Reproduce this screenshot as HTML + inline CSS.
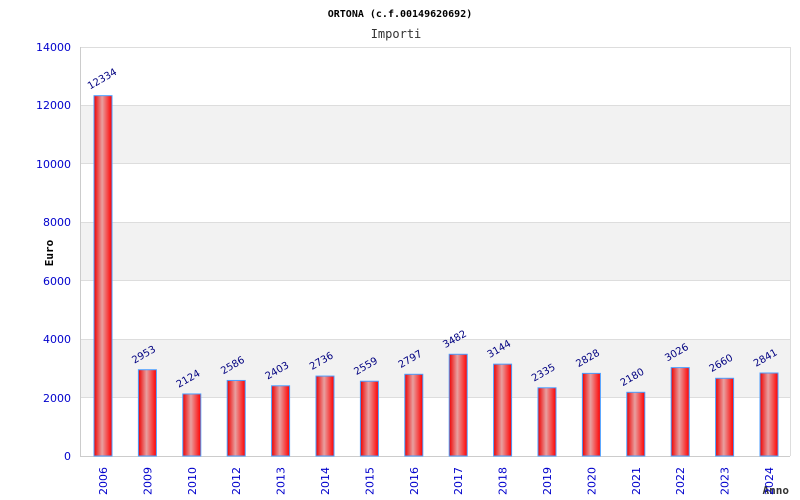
<!DOCTYPE html>
<html><head><meta charset="utf-8"><style>body{margin:0;background:#fff}svg{display:block}</style></head>
<body>
<svg width="800" height="500" xmlns="http://www.w3.org/2000/svg" font-family="'DejaVu Sans Mono','Liberation Mono',monospace">
<defs><linearGradient id="g" x1="0" x2="1"><stop offset="0" stop-color="#e00"/><stop offset="0.45" stop-color="#e8a0a0"/><stop offset="1" stop-color="#f00"/></linearGradient></defs>
<text x="400" y="17" text-anchor="middle" font-size="10" font-weight="bold">ORTONA (c.f.00149620692)</text>
<text x="396" y="38" text-anchor="middle" font-size="12" fill="#333">Importi</text>
<rect x="80" y="339.1" width="710" height="58.5" fill="#f2f2f2"/>
<rect x="80" y="222.3" width="710" height="58.4" fill="#f2f2f2"/>
<rect x="80" y="105.4" width="710" height="58.5" fill="#f2f2f2"/>
<g stroke="#ddd" stroke-width="1">
<line x1="80" x2="790" y1="47.5" y2="47.5"/><line x1="80" x2="790" y1="105.5" y2="105.5"/><line x1="80" x2="790" y1="163.5" y2="163.5"/><line x1="80" x2="790" y1="222.5" y2="222.5"/><line x1="80" x2="790" y1="280.5" y2="280.5"/><line x1="80" x2="790" y1="339.5" y2="339.5"/><line x1="80" x2="790" y1="397.5" y2="397.5"/>
<line x1="790.5" x2="790.5" y1="47" y2="456"/>
</g>
<g stroke="#ccc"><line x1="80.5" x2="80.5" y1="47" y2="456"/><line x1="80" x2="790" y1="456.5" y2="456.5"/></g>
<g font-size="11" fill="#00c" text-anchor="end" font-family="'DejaVu Sans','Liberation Sans',sans-serif">
<text x="71" y="51">14000</text><text x="71" y="109">12000</text><text x="71" y="168">10000</text><text x="71" y="226">8000</text><text x="71" y="285">6000</text><text x="71" y="343">4000</text><text x="71" y="402">2000</text><text x="71" y="460">0</text>
</g>
<text transform="translate(53,253) rotate(-90)" text-anchor="middle" font-size="11" font-weight="bold">Euro</text>
<text x="789" y="494" text-anchor="end" font-size="11" font-weight="bold" fill="#333">Anno</text>
<g id="bars" stroke="#4a9eff" stroke-width="1" fill="url(#g)"></g>
<g id="vals" font-size="10" fill="#000080" font-family="'DejaVu Sans','Liberation Sans',sans-serif"></g>
<g id="yrs" font-size="11" fill="#00c" font-family="'DejaVu Sans','Liberation Sans',sans-serif"></g>
<script>
var d=[[2006,12334],[2009,2953],[2010,2124],[2012,2586],[2013,2403],[2014,2736],[2015,2559],[2016,2797],[2017,3482],[2018,3144],[2019,2335],[2020,2828],[2021,2180],[2022,3026],[2023,2660],[2024,2841]];
var ns="http://www.w3.org/2000/svg",b=document.getElementById('bars'),v=document.getElementById('vals'),y=document.getElementById('yrs');
d.forEach(function(e,i){var c=103+i*44.4,t=456-e[1]*0.029214;
var r=document.createElementNS(ns,'rect');r.setAttribute('x',c-9);r.setAttribute('y',t);r.setAttribute('width',18);r.setAttribute('height',456-t);b.appendChild(r);
var s=document.createElementNS(ns,'text');s.setAttribute('transform','translate('+(c-13)+','+(t-6)+') rotate(-30)');s.textContent=e[1];v.appendChild(s);
var z=document.createElementNS(ns,'text');z.setAttribute('transform','translate('+(c+4)+',495) rotate(-90)');z.textContent=e[0];y.appendChild(z);});
</script>
</svg>
</body></html>
